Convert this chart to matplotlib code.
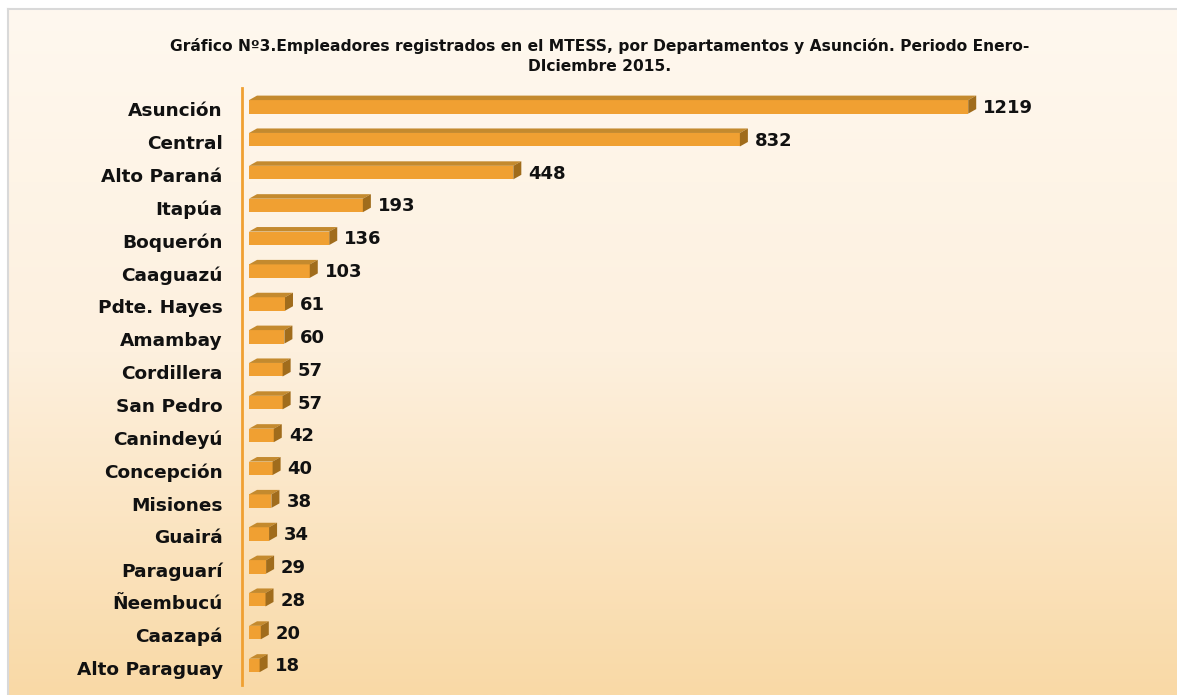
import matplotlib
matplotlib.use("Agg")
import matplotlib.pyplot as plt
import numpy as np
from matplotlib.patches import Rectangle, Polygon
from matplotlib.colors import LinearSegmentedColormap

departments = ["Asunción", "Central", "Alto Paraná", "Itapúa", "Boquerón", "Caaguazú",
               "Pdte. Hayes", "Amambay", "Cordillera", "San Pedro", "Canindeyú",
               "Concepción", "Misiones", "Guairá", "Paraguarí", "Ñeembucú", "Caazapá",
               "Alto Paraguay"]
employers = [1219, 832, 448, 193, 136, 103, 61, 60, 57, 57, 42, 40, 38, 34, 29, 28, 20, 18]
title = ("Gráfico Nº3.Empleadores registrados en el MTESS, por Departamentos y Asunción. Periodo Enero-\n"
         "DIciembre 2015.")

W, H = 1177, 695
fig = plt.figure(figsize=(W / 100, H / 100), dpi=100)
fig.patch.set_facecolor("white")

# background panel with vertical gradient
bg = fig.add_axes([9 / W, 0, 1 - 9 / W, (H - 10) / H])
bg.set_axis_off()
cmap = LinearSegmentedColormap.from_list("g", ["#FFF8EF", "#FDF0DE", "#F9D9A6"])
grad = np.linspace(0, 1, 256).reshape(-1, 1)
bg.imshow(grad, aspect="auto", cmap=cmap, extent=[0, 1, 0, 1], origin="upper")
bg.set_xlim(0, 1)
bg.set_ylim(0, 1)
# border lines
fig.add_artist(plt.Line2D([7.5 / W, 7.5 / W], [0, (H - 8.5) / H], color="#D9D9D9", lw=1.5))
fig.add_artist(plt.Line2D([7.5 / W, 1], [(H - 8.5) / H, (H - 8.5) / H], color="#D9D9D9", lw=1.5))

# main axes
ax_left_px, ax_right_px = 242, 1170
ax_top_px, ax_bot_px = 88, 685
ax = fig.add_axes([ax_left_px / W, (H - ax_bot_px) / H,
                   (ax_right_px - ax_left_px) / W, (ax_bot_px - ax_top_px) / H])
ax.patch.set_alpha(0)

px_per_unit = 0.59
xmin = -(249 - ax_left_px) / px_per_unit
xmax = xmin + (ax_right_px - ax_left_px) / px_per_unit
n = len(departments)
ax.set_xlim(xmin, xmax)
ax.set_ylim(n - 1 + 0.52, -0.65)
px_per_row = (ax_bot_px - ax_top_px) / (n - 1 + 0.52 + 0.65)

dx = 8 / px_per_unit
dy = 4.5 / px_per_row
h = 13.5 / px_per_row
off = 2.5 / px_per_row

front_c = "#F0A032"
top_c = "#C48A2E"
side_c = "#A06C1C"

ypos = np.arange(n)
for y, v in zip(ypos, employers):
    top = y - h / 2 - off
    bot = y + h / 2 - off
    ax.add_patch(Rectangle((0, top), v, h, facecolor=front_c, edgecolor="none"))
    ax.add_patch(Polygon([(0, top), (v, top), (v + dx, top - dy), (dx, top - dy)],
                         closed=True, facecolor=top_c, edgecolor="none"))
    ax.add_patch(Polygon([(v, top), (v + dx, top - dy), (v + dx, bot - dy), (v, bot)],
                         closed=True, facecolor=side_c, edgecolor="none"))
    ax.text(v + dx + 7 / px_per_unit, y - off + 0.03, f"{v}", ha="left", va="center",
            fontsize=13, fontweight="bold", color="#111111")

ax.set_yticks(ypos)
ax.set_yticklabels(departments, fontsize=13.3, fontweight="bold", color="#111111")
ax.tick_params(axis="y", length=0, pad=14)
ax.set_xticks([])
for s in ["top", "right", "bottom"]:
    ax.spines[s].set_visible(False)
ax.spines["left"].set_color("#F0A032")
ax.spines["left"].set_linewidth(2)

fig.text(600 / W, 1 - 56 / H, title, ha="center", va="center", fontsize=11.2,
         fontweight="bold", color="#111111", linespacing=1.45)

fig.savefig("out.png", dpi=100)
